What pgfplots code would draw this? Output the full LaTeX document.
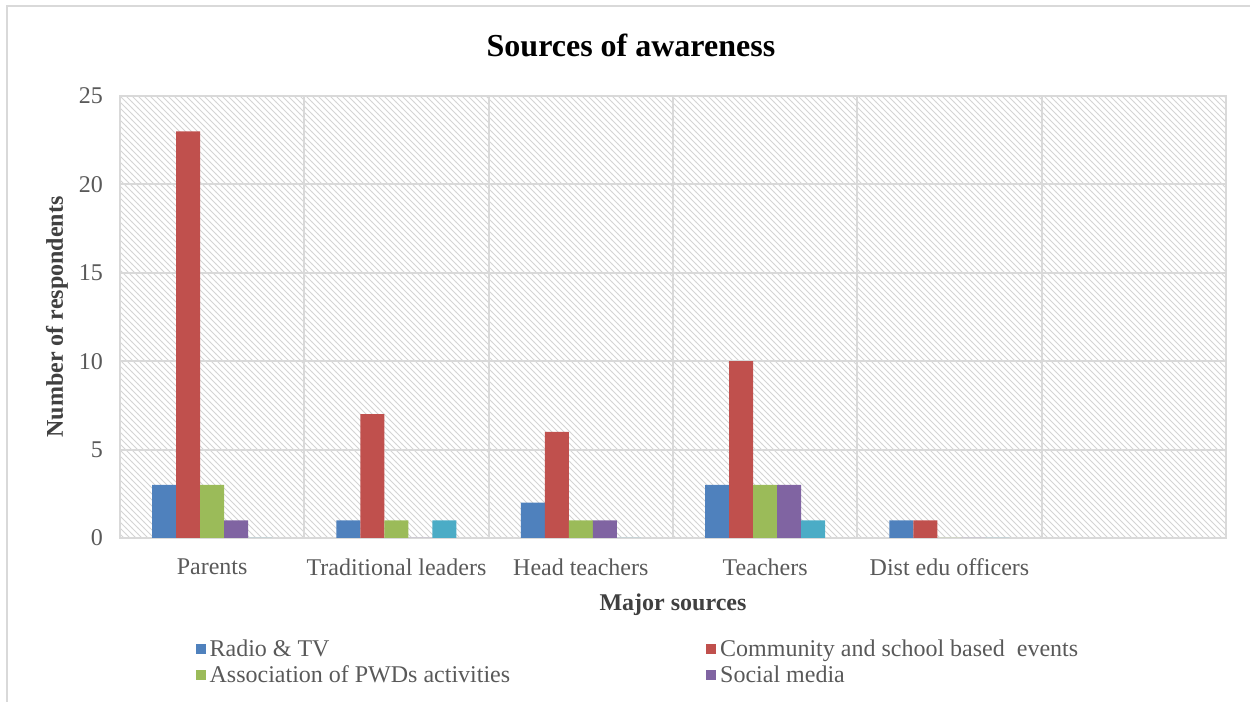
\documentclass[border=0pt]{standalone}
\usepackage{fontspec}
\setmainfont{Liberation Serif}
\usepackage{pgfplots}
\pgfplotsset{compat=1.18}
\usetikzlibrary{patterns}
\definecolor{cBlue}{HTML}{4F81BD}
\definecolor{cRed}{HTML}{C0504D}
\definecolor{cGreen}{HTML}{9BBB59}
\definecolor{cPurple}{HTML}{8064A2}
\definecolor{cCyan}{HTML}{4BACC6}
\definecolor{gridgray}{HTML}{D9D9D9}
\definecolor{hatch}{HTML}{D4D4D4}
\definecolor{txtgray}{HTML}{595959}
\definecolor{lblgray}{HTML}{404040}
\pgfplotsset{
  mybar/.style={fill=#1, draw=none,
    legend image code/.code={\path[##1] (0pt,-2.5pt) rectangle (5pt,2.5pt);}},
}
\begin{document}
\begin{tikzpicture}
\path[use as bounding box] (0,0) rectangle (625pt,351pt);
\draw[gridgray, line width=1pt] (3.5pt,0) -- (3.5pt,348pt) -- (625pt,348pt);
\begin{axis}[
  at={(60pt,82pt)}, anchor=south west,
  scale only axis, width=553pt, height=221pt,
  ybar=0pt, bar width=12pt,
  xmin=-0.5, xmax=5.5, ymin=0, ymax=25,
  xtick={0,1,2,3,4},
  xticklabels={Parents, Traditional leaders, Head teachers, Teachers, Dist edu officers},
  minor xtick={-0.5,0.5,1.5,2.5,3.5,4.5,5.5},
  ytick={0,5,10,15,20,25},
  xminorgrids=true, ymajorgrids=true, xmajorgrids=false,
  grid style={draw=gridgray, line width=1pt},
  minor grid style={draw=gridgray, line width=1pt},
  major tick length=0pt, minor tick length=0pt,
  axis line style={draw=gridgray, line width=1pt},
  axis background/.style={pattern=north west lines, pattern color=hatch},
  /pgf/number format/assume math mode=true,
  tick label style={font=\fontsize{12}{14}\selectfont, text=txtgray},
  yticklabel style={xshift=-5pt},
  xticklabel style={yshift=-7pt},
  xlabel={Major sources},
  ylabel={Number of respondents},
  label style={font=\bfseries\fontsize{12}{14}\selectfont, text=lblgray},
  xlabel style={at={(axis description cs:0.5,-0.15)}, anchor=center},
  ylabel style={at={(axis description cs:-0.057,0.5)}, anchor=center},
  title={Sources of awareness},
  title style={at={(axis description cs:0.462,1.088)}, anchor=center,
    font=\bfseries\fontsize{16}{18}\selectfont, text=black},
  legend columns=2,
  legend cell align=left,
  legend style={draw=none, fill=none, inner sep=0pt,
    at={(axis description cs:0.068,-0.22)}, anchor=north west,
    font=\fontsize{12}{14}\selectfont, text=txtgray,
    row sep=-1pt,
    /tikz/every even column/.append style={column sep=96pt}},
]
\addplot[mybar=cBlue] coordinates {(0,3) (1,1) (2,2) (3,3) (4,1)};
\addplot[mybar=cRed] coordinates {(0,23) (1,7) (2,6) (3,10) (4,1)};
\addplot[mybar=cGreen] coordinates {(0,3) (1,1) (2,1) (3,3) (4,0)};
\addplot[mybar=cPurple] coordinates {(0,1) (1,0) (2,1) (3,3) (4,0)};
\addplot[mybar=cCyan] coordinates {(0,0) (1,1) (2,0) (3,1) (4,0)};
\legend{Radio \& TV, Community and school based~ events, Association of PWDs activities, Social media}
\end{axis}
\end{tikzpicture}
\end{document}
